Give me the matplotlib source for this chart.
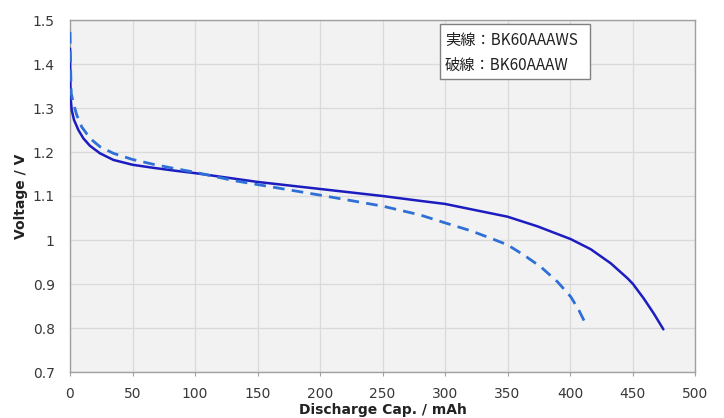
import matplotlib
matplotlib.use("Agg")
import matplotlib.pyplot as plt
from matplotlib.ticker import FixedLocator
from matplotlib.patches import Rectangle

# Data
ws_cap = [0, 0.2, 0.5, 1.4, 3.2, 6.7, 10.7, 16, 24, 34.7, 50, 66.7, 85.4,
          100, 125, 150, 200, 250, 280, 300, 320.6, 350, 374, 400.6, 416.6,
          432.6, 446, 450.4, 459, 467, 474.7]
ws_volt = [1.435, 1.37, 1.322, 1.295, 1.273, 1.25, 1.231, 1.214, 1.197, 1.182,
           1.171, 1.164, 1.157, 1.152, 1.142, 1.132, 1.116, 1.100, 1.089,
           1.082, 1.070, 1.053, 1.031, 1.002, 0.979, 0.947, 0.913, 0.900,
           0.867, 0.833, 0.797]

w_cap = [0, 0.4, 1, 2.7, 5.4, 9.4, 16, 24, 34.7, 50, 66.7, 82.7, 100, 131,
         150, 200, 250, 280, 300, 320.6, 336.6, 350, 363, 376.6, 390, 400.6,
         407, 412.6]
w_volt = [1.473, 1.40, 1.333, 1.311, 1.284, 1.257, 1.231, 1.212, 1.197, 1.183,
          1.172, 1.163, 1.154, 1.135, 1.126, 1.102, 1.077, 1.057, 1.039,
          1.021, 1.004, 0.989, 0.966, 0.939, 0.905, 0.871, 0.841, 0.809]

x_ticks = [0, 50, 100, 150, 200, 250, 300, 350, 400, 450, 500]
y_ticks = [0.7, 0.8, 0.9, 1.0, 1.1, 1.2, 1.3, 1.4, 1.5]
y_tick_labels = ["0.7", "0.8", "0.9", "1", "1.1", "1.2", "1.3", "1.4", "1.5"]
legend_lines = ["実線：BK60AAAWS", "破線：BK60AAAW"]
x_label = "Discharge Cap. / mAh"
y_label = "Voltage / V"

fig = plt.figure(figsize=(7.24, 4.18), dpi=100)
ax = fig.add_axes([70 / 724, 46 / 418, 625 / 724, 352 / 418])
ax.set_facecolor("#f2f2f2")

ax.plot(ws_cap, ws_volt, color="#1c1cc0", lw=1.8, solid_capstyle="round",
        solid_joinstyle="round", zorder=3)
ax.plot(w_cap, w_volt, color="#2f70d6", lw=2.0, dashes=(4.2, 2.6), zorder=3)

ax.set_xlim(0, 500)
ax.set_ylim(0.7, 1.5)
ax.xaxis.set_major_locator(FixedLocator(x_ticks))
ax.yaxis.set_major_locator(FixedLocator(y_ticks))
ax.set_yticklabels(y_tick_labels)
ax.grid(True, color="#dadada", lw=0.9)
ax.set_axisbelow(True)
for s in ax.spines.values():
    s.set_color("#a0a0a0")
    s.set_linewidth(1.0)
ax.tick_params(axis="x", length=3, color="#a0a0a0", labelsize=10,
               labelcolor="#383838", pad=8)
ax.tick_params(axis="y", length=0, labelsize=10, labelcolor="#383838", pad=11)

ax.set_xlabel(x_label, fontsize=10, fontweight="bold", color="#222222", labelpad=1)
ax.set_ylabel(y_label, fontsize=10, fontweight="bold", color="#222222", labelpad=3)

# legend box
ax.add_patch(Rectangle((0.592, 0.832), 0.240, 0.1566, transform=ax.transAxes,
                       fc="white", ec="#808080", lw=1.0, zorder=5))
cjk = ["Noto Sans CJK JP", "DejaVu Sans"]
ax.text(0.600, 0.941, legend_lines[0], transform=ax.transAxes, ha="left",
        va="center", fontsize=11, family=cjk, color="#222222", zorder=6)
ax.text(0.600, 0.872, legend_lines[1], transform=ax.transAxes, ha="left",
        va="center", fontsize=11, family=cjk, color="#222222", zorder=6)

fig.savefig("out.png", dpi=100)
